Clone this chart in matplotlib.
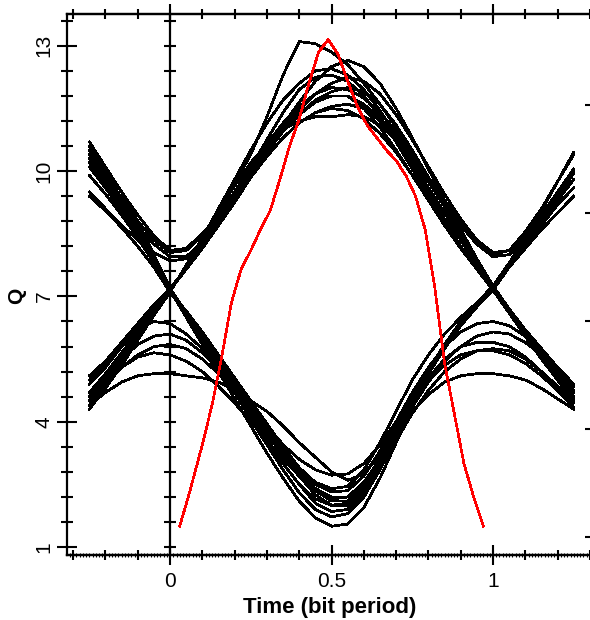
import numpy as np
import matplotlib
matplotlib.use("Agg")
import matplotlib.pyplot as plt
from matplotlib.ticker import MultipleLocator, NullFormatter

plt.rcParams['font.family'] = ['Liberation Sans', 'DejaVu Sans']

# ---------------- data ----------------
time_bits = [-0.25, -0.2, -0.15, -0.1, -0.05, 0.0, 0.05, 0.1, 0.15, 0.2, 0.25,
             0.3, 0.35, 0.4, 0.45, 0.5, 0.55, 0.6, 0.65, 0.7, 0.75, 0.8, 0.85,
             0.9, 0.95, 1.0, 1.05, 1.1, 1.15, 1.2, 1.25]

# traces whose centre bit is a "1"
high_traces = [
    [4.5, 5.0, 5.55, 6.1, 6.65, 7.1, 7.75, 8.35, 9.0, 9.7, 10.4, 11.3, 12.3, 13.1, 13.05, 12.85, 12.55, 12.1, 11.6, 11.05, 10.45, 9.8, 9.15, 8.5, 7.85, 7.2, 6.7, 6.2, 5.7, 5.25, 4.85],
    [4.9, 5.3, 5.8, 6.3, 6.75, 7.15, 7.65, 8.15, 8.7, 9.25, 9.85, 10.5, 11.1, 11.65, 12.15, 12.5, 12.65, 12.5, 12.1, 11.5, 10.8, 10.05, 9.3, 8.6, 7.9, 7.25, 6.7, 6.15, 5.65, 5.2, 4.75],
    [10.4, 9.85, 9.3, 8.8, 8.35, 8.05, 8.1, 8.45, 8.95, 9.5, 10.1, 10.75, 11.4, 11.95, 12.25, 12.3, 12.15, 11.8, 11.3, 10.7, 10.05, 9.4, 8.75, 8.15, 7.65, 7.2, 6.65, 6.1, 5.6, 5.15, 4.7],
    [4.6, 5.05, 5.55, 6.1, 6.65, 7.15, 7.7, 8.3, 8.9, 9.5, 10.1, 10.65, 11.15, 11.55, 11.85, 12.0, 11.95, 11.75, 11.4, 10.95, 10.4, 9.85, 9.3, 8.8, 8.35, 8.05, 8.1, 8.45, 8.95, 9.5, 10.05],
    [10.1, 9.6, 9.1, 8.65, 8.25, 7.95, 7.95, 8.3, 8.8, 9.35, 9.95, 10.5, 11.0, 11.35, 11.65, 11.8, 11.8, 11.6, 11.25, 10.8, 10.3, 9.75, 9.2, 8.7, 8.25, 7.95, 8.0, 8.35, 8.85, 9.4, 9.95],
    [5.1, 5.45, 5.9, 6.35, 6.8, 7.2, 7.65, 8.15, 8.7, 9.3, 9.85, 10.35, 10.8, 11.15, 11.4, 11.55, 11.6, 11.5, 11.2, 10.75, 10.2, 9.6, 9.0, 8.35, 7.75, 7.15, 6.6, 6.1, 5.6, 5.1, 4.6],
    [4.4, 4.9, 5.45, 6.0, 6.6, 7.1, 7.75, 8.4, 9.05, 9.65, 10.2, 10.65, 11.0, 11.2, 11.3, 11.3, 11.35, 11.3, 11.1, 10.75, 10.3, 9.75, 9.15, 8.55, 7.9, 7.25, 6.7, 6.2, 5.7, 5.2, 4.75],
    [10.6, 10.05, 9.5, 8.95, 8.45, 8.1, 8.15, 8.5, 8.95, 9.45, 9.95, 10.45, 10.95, 11.35, 11.7, 11.9, 12.0, 11.9, 11.6, 11.1, 10.5, 9.85, 9.15, 8.45, 7.8, 7.2, 6.6, 6.05, 5.5, 5.0, 4.5],
    [4.7, 5.15, 5.65, 6.15, 6.7, 7.15, 7.7, 8.25, 8.8, 9.35, 9.95, 10.5, 11.0, 11.45, 11.85, 12.1, 12.25, 12.15, 11.85, 11.35, 10.75, 10.1, 9.45, 8.85, 8.35, 8.0, 8.1, 8.55, 9.1, 9.75, 10.4],
    [5.0, 5.35, 5.8, 6.25, 6.7, 7.15, 7.7, 8.25, 8.85, 9.45, 10.05, 10.6, 11.05, 11.4, 11.65, 11.8, 11.8, 11.5, 11.05, 10.5, 9.9, 9.3, 8.7, 8.15, 7.65, 7.2, 6.7, 6.2, 5.75, 5.3, 4.9],
    [9.5, 9.1, 8.7, 8.35, 8.05, 7.85, 7.9, 8.25, 8.75, 9.3, 9.85, 10.35, 10.8, 11.15, 11.4, 11.5, 11.45, 11.25, 10.9, 10.45, 9.9, 9.3, 8.7, 8.15, 7.65, 7.15, 6.6, 6.05, 5.55, 5.05, 4.55],
    [4.3, 4.8, 5.35, 5.95, 6.55, 7.1, 7.75, 8.4, 9.1, 9.8, 10.5, 11.15, 11.7, 12.1, 12.4, 12.45, 12.3, 11.95, 11.45, 10.85, 10.2, 9.5, 8.85, 8.2, 7.65, 7.15, 6.6, 6.05, 5.5, 5.0, 4.45],
]

# traces whose centre bit is a "0"
low_traces = [
    [10.5, 9.95, 9.35, 8.7, 7.95, 7.15, 6.5, 5.85, 5.2, 4.55, 3.9, 3.25, 2.65, 2.1, 1.7, 1.5, 1.55, 1.95, 2.65, 3.5, 4.35, 5.15, 5.8, 6.35, 6.8, 7.2, 7.8, 8.4, 9.05, 9.75, 10.45],
    [10.2, 9.7, 9.15, 8.55, 7.85, 7.15, 6.55, 5.95, 5.3, 4.7, 4.05, 3.45, 2.85, 2.3, 1.9, 1.72, 1.8, 2.2, 2.85, 3.65, 4.45, 5.2, 5.85, 6.4, 6.85, 7.25, 7.8, 8.35, 8.9, 9.45, 10.0],
    [9.9, 9.45, 8.95, 8.4, 7.8, 7.15, 6.6, 6.0, 5.4, 4.8, 4.2, 3.6, 3.0, 2.5, 2.05, 1.85, 1.9, 2.3, 2.9, 3.55, 4.2, 4.75, 5.2, 5.5, 5.7, 5.75, 5.7, 5.5, 5.2, 4.85, 4.5],
    [4.7, 5.1, 5.5, 5.85, 6.05, 6.1, 5.95, 5.65, 5.25, 4.8, 4.3, 3.75, 3.2, 2.7, 2.25, 2.0, 2.0, 2.35, 2.95, 3.7, 4.45, 5.15, 5.75, 6.3, 6.8, 7.2, 7.75, 8.3, 8.85, 9.35, 9.8],
    [10.7, 10.1, 9.5, 8.8, 8.0, 7.2, 6.6, 6.05, 5.5, 4.95, 4.4, 3.8, 3.25, 2.75, 2.35, 2.1, 2.1, 2.45, 3.05, 3.8, 4.55, 5.25, 5.85, 6.35, 6.8, 7.2, 7.7, 8.2, 8.7, 9.2, 9.6],
    [4.5, 4.9, 5.3, 5.6, 5.8, 5.85, 5.75, 5.5, 5.15, 4.7, 4.2, 3.7, 3.2, 2.75, 2.4, 2.2, 2.2, 2.5, 3.05, 3.7, 4.35, 4.95, 5.45, 5.8, 6.05, 6.15, 6.1, 5.9, 5.6, 5.25, 4.9],
    [10.3, 9.75, 9.2, 8.6, 7.9, 7.15, 6.6, 6.05, 5.5, 4.95, 4.4, 3.85, 3.3, 2.85, 2.5, 2.32, 2.35, 2.7, 3.3, 4.0, 4.7, 5.3, 5.8, 6.15, 6.35, 6.4, 6.3, 6.05, 5.7, 5.3, 4.9],
    [4.4, 4.7, 4.95, 5.1, 5.15, 5.15, 5.1, 5.05, 4.95, 4.75, 4.5, 4.25, 3.9, 3.5, 3.15, 2.8, 2.6, 2.75, 3.2, 3.85, 4.55, 5.2, 5.8, 6.3, 6.75, 7.15, 7.7, 8.2, 8.75, 9.3, 9.8],
    [4.9, 5.35, 5.8, 6.2, 6.4, 6.35, 6.1, 5.75, 5.3, 4.85, 4.35, 3.9, 3.45, 3.1, 2.85, 2.72, 2.75, 3.0, 3.45, 4.0, 4.55, 5.0, 5.35, 5.6, 5.7, 5.7, 5.6, 5.4, 5.1, 4.75, 4.35],
    [9.4, 9.05, 8.65, 8.2, 7.7, 7.1, 6.65, 6.15, 5.6, 5.05, 4.5, 3.95, 3.4, 2.9, 2.55, 2.4, 2.45, 2.85, 3.5, 4.25, 5.0, 5.6, 6.1, 6.5, 6.85, 7.2, 7.7, 8.15, 8.6, 9.0, 9.4],
    [4.6, 4.95, 5.3, 5.55, 5.65, 5.6, 5.45, 5.2, 4.85, 4.45, 4.0, 3.55, 3.1, 2.7, 2.35, 2.15, 2.2, 2.55, 3.1, 3.7, 4.25, 4.65, 4.95, 5.1, 5.15, 5.15, 5.1, 5.0, 4.8, 4.55, 4.3],
    [10.1, 9.6, 9.05, 8.5, 7.85, 7.15, 6.55, 5.95, 5.35, 4.75, 4.15, 3.55, 3.0, 2.5, 2.15, 2.0, 2.05, 2.45, 3.05, 3.75, 4.45, 5.05, 5.5, 5.8, 5.9, 5.9, 5.8, 5.55, 5.2, 4.85, 4.45],
]

# Q factor versus sampling time (red curve)
q_time = [0.03, 0.06, 0.10, 0.13, 0.16, 0.19, 0.22, 0.25, 0.28, 0.31, 0.34, 0.37,
          0.40, 0.43, 0.46, 0.49, 0.52, 0.55, 0.58, 0.61, 0.64, 0.67, 0.70, 0.73,
          0.76, 0.79, 0.82, 0.85, 0.88, 0.91, 0.94, 0.97]
q_value = [1.5, 2.3, 3.45, 4.4, 5.55, 6.85, 7.65, 8.1, 8.6, 9.05, 9.8, 10.6,
           11.25, 12.1, 12.85, 13.15, 12.8, 12.15, 11.55, 11.1, 10.8, 10.5, 10.25, 9.9,
           9.4, 8.6, 7.2, 5.4, 4.2, 3.0, 2.2, 1.5]

x_ticks = [0, 0.5, 1]
x_ticklabels = ['0', '0.5', '1']
y_ticks = [1, 4, 7, 10, 13]
y_ticklabels = ['1', '4', '7', '10', '13']
right_ticks = [1.25, 3.83, 6.41, 9.0, 11.58]

# ---------------- figure ----------------
fig = plt.figure(figsize=(5.9, 6.2), dpi=100)
ax = fig.add_axes([0.1136, 0.1048, 0.8898, 0.8726])

for tr in high_traces + low_traces:
    ax.plot(time_bits, tr, color='black', lw=1.25, antialiased=False, zorder=3)
ax.plot(q_time, q_value, color='#ff0000', lw=1.2, antialiased=False, zorder=4)

XMIN, XMAX = -0.319, 1.3065
ax.set_xlim(XMIN, XMAX)
ax.set_ylim(0.81, 13.76)

for s in ax.spines.values():
    s.set_linewidth(1.6)

# x axis
ax.set_xticks(x_ticks)
ax.set_xticklabels(x_ticklabels)
ax.xaxis.set_minor_locator(MultipleLocator(0.01))
ax.tick_params(axis='x', which='major', direction='inout', length=15, width=1.5,
               top=True, bottom=True, labelsize=15, pad=5)
ax.tick_params(axis='x', which='minor', direction='inout', length=3, width=0.8,
               top=False, bottom=True)

sec_b = ax.secondary_xaxis('bottom')
sec_b.xaxis.set_major_locator(MultipleLocator(0.1))
sec_b.xaxis.set_major_formatter(NullFormatter())
sec_b.tick_params(axis='x', which='major', direction='inout', length=7, width=1.5,
                  labelbottom=False)
sec_b.spines['bottom'].set_linewidth(1.6)

sec_t = ax.secondary_xaxis('top')
sec_t.xaxis.set_major_locator(MultipleLocator(0.1))
sec_t.xaxis.set_major_formatter(NullFormatter())
sec_t.tick_params(axis='x', which='major', direction='inout', length=7, width=1.5,
                  labeltop=False)
sec_t.spines['top'].set_linewidth(1.6)

# y axis
ax.set_yticks(y_ticks)
ax.set_yticklabels(y_ticklabels, rotation=90, va='center')
ax.yaxis.set_minor_locator(MultipleLocator(0.6, offset=1.0))
ax.tick_params(axis='y', which='major', direction='inout', length=15, width=1.5,
               right=False, labelsize=15, pad=2)
ax.tick_params(axis='y', which='minor', direction='inout', length=8, width=1.5,
               right=False)

# vertical line at t = 0 with its own ticks
loc0 = (0 - XMIN) / (XMAX - XMIN)
sec_v = ax.secondary_yaxis(loc0)
sec_v.set_yticks(y_ticks)
sec_v.yaxis.set_minor_locator(MultipleLocator(0.6, offset=1.0))
sec_v.yaxis.set_major_formatter(NullFormatter())
sec_v.tick_params(axis='y', which='both', direction='inout', length=8, width=1.5,
                  labelleft=False)
sec_v.spines['left'].set_linewidth(1.6)

# right axis (mostly off-figure)
sec_r = ax.secondary_yaxis('right')
sec_r.set_yticks(right_ticks)
sec_r.yaxis.set_major_formatter(NullFormatter())
sec_r.tick_params(axis='y', which='major', direction='in', length=5, width=1.5,
                  labelright=False)

ax.set_xlabel('Time (bit period)', fontsize=16, fontweight='bold')
ax.xaxis.set_label_coords(0.5, -0.077)
ax.set_ylabel('Q', fontsize=15, fontweight='bold')
ax.yaxis.set_label_coords(-0.078, 0.479)

fig.savefig('out.png', dpi=100)
